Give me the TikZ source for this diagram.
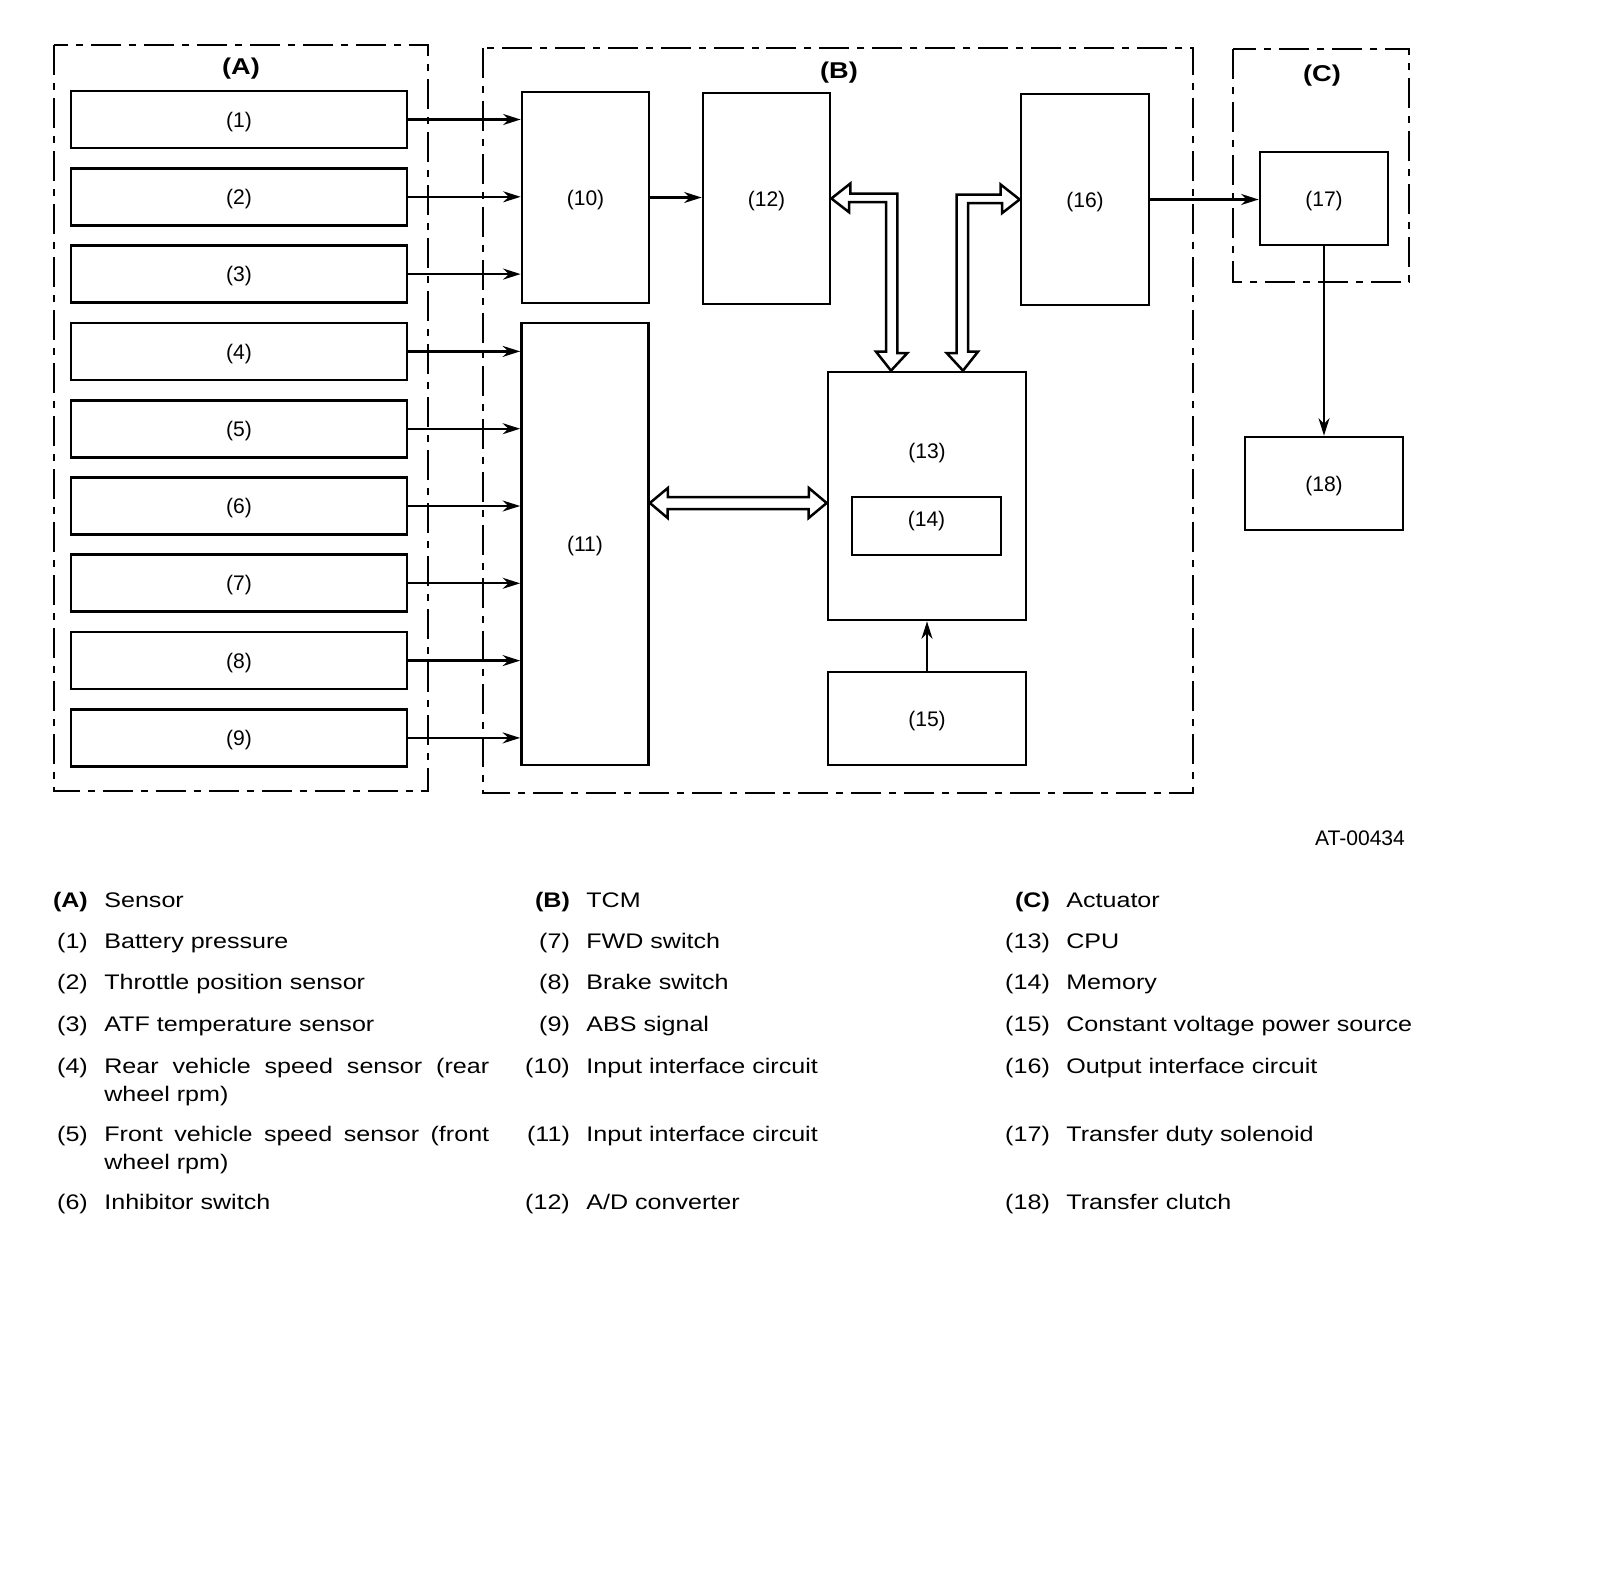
\documentclass[tikz,border=0pt]{standalone}
\usepackage{fontspec}
\setmainfont{Liberation Sans}
\newfontfamily\legendfont[FakeStretch=1.19]{Liberation Sans}
\usepackage{tikz}
\usetikzlibrary{
    arrows.meta,
    calc
}
\newcommand{\legnum}[1]{\llap{#1\hspace{0.33cm}}}

\begin{document}
\begin{tikzpicture}[
    x=0.02cm, y=-0.02cm,
    lbl/.style={font=\fontsize{12}{14}\selectfont},
    box/.style={
        rectangle,
        draw=black,
        line width=0.055cm,
        inner sep=0pt,
        text depth=0pt,
        lbl
    },
    sensor/.style={box, minimum width=6.72cm, minimum height=1.14cm},
    unit/.style={box, minimum width=2.54cm, minimum height=4.22cm},
    frame/.style={draw=black, line width=0.045cm,
        dash pattern=on 0.6cm off 0.16cm on 0.14cm off 0.16cm},
    framelabel/.style={font=\legendfont\fontsize{13}{15}\selectfont\bfseries},
    arrow/.style={-{Stealth[length=0.35cm,width=0.22cm]}, line width=0.045cm},
    busarrow/.style={draw=black, fill=white, line width=0.05cm, line join=miter},
    legend/.style={anchor=base west, inner sep=0pt, font=\legendfont\fontsize{12}{14}\selectfont}
]
\useasboundingbox (0,0) rectangle (1600,1582);

% Frames
\draw[frame] (54,45) rectangle (428,791);
\draw[frame] (483,48) rectangle (1193,793);
\draw[frame] (1233,49) rectangle (1409,282);
\node[framelabel] (la) at (241,69) {(A)};
\node[framelabel] (lb) at (839,73) {(B)};
\node[framelabel] (lc) at (1322,76) {(C)};

% Sensors
\node[sensor] (s1) at (239,119.5) {(1)};
\node[sensor] (s2) at (239,196.8) {(2)};
\node[sensor] (s3) at (239,274.1) {(3)};
\node[sensor] (s4) at (239,351.4) {(4)};
\node[sensor] (s5) at (239,428.7) {(5)};
\node[sensor] (s6) at (239,506.0) {(6)};
\node[sensor] (s7) at (239,583.3) {(7)};
\node[sensor] (s8) at (239,660.6) {(8)};
\node[sensor] (s9) at (239,737.9) {(9)};

% TCM blocks
\node[unit] (in1) at (585.5,197.5) {(10)};
\node[box, minimum width=2.54cm, minimum height=8.84cm] (in2) at (585,544) {(11)};
\node[unit] (adc) at (766.5,198.5) {(12)};
\node[box, minimum width=2.56cm, minimum height=4.22cm] (dac) at (1085,199.5) {(16)};
\node[box, minimum width=3.96cm, minimum height=4.96cm] (cpu) at (927,496) {};
\node[lbl] (cpulabel) at (927,453) {(13)};
\node[box, minimum width=2.98cm, minimum height=1.16cm] (mem) at (926.5,526) {};
\node[lbl] (memlabel) at (926.5,521) {(14)};
\node[box, minimum width=3.96cm, minimum height=1.86cm] (pwr) at (927,718.5) {(15)};

% Actuators
\node[box, minimum width=2.56cm, minimum height=1.86cm] (sol) at (1324,198.5) {(17)};
\node[box, minimum width=3.16cm, minimum height=1.86cm] (clutch) at (1324,483.5) {(18)};

% Signal arrows
\draw[arrow] (s1.east) -- (s1.east -| in1.west);
\draw[arrow] (s2.east) -- (s2.east -| in1.west);
\draw[arrow] (s3.east) -- (s3.east -| in1.west);
\draw[arrow] (s4.east) -- (s4.east -| in2.west);
\draw[arrow] (s5.east) -- (s5.east -| in2.west);
\draw[arrow] (s6.east) -- (s6.east -| in2.west);
\draw[arrow] (s7.east) -- (s7.east -| in2.west);
\draw[arrow] (s8.east) -- (s8.east -| in2.west);
\draw[arrow] (s9.east) -- (s9.east -| in2.west);
\draw[arrow] (in1.east) -- (in1.east -| adc.west);
\draw[arrow] (dac.east) -- (dac.east -| sol.west);
\draw[arrow] (sol.south) -- (clutch.north);
\draw[arrow] (pwr.north) -- (cpu.south);

% Bus arrows
\coordinate (busa) at ($(cpu.north)+(-36,0)$);
\coordinate (busb) at ($(cpu.north)+(36,0)$);
\coordinate (busc) at ($(cpu.west)+(0,7)$);
\draw[busarrow] (adc.east) -- ++(19,-15) -- ++(0,10) -- ++(47,0) -- ++(0,159.5) -- ++(10,0)
    -- (busa) -- ++(-15,-19) -- ++(10,0) -- ++(0,-149.5) -- ++(-37,0) -- ++(0,10) -- cycle;
\draw[busarrow] (dac.west) -- ++(-19,-15) -- ++(0,10) -- ++(-44,0) -- ++(0,158.5) -- ++(-10,0)
    -- (busb) -- ++(15,-19) -- ++(-10,0) -- ++(0,-148.5) -- ++(34,0) -- ++(0,10) -- cycle;
\draw[busarrow] (in2.east |- busc) -- ++(18,-15) -- ++(0,9) -- ++(141,0) -- ++(0,-9)
    -- (busc) -- ++(-18,15) -- ++(0,-9) -- ++(-141,0) -- ++(0,9) -- cycle;

% Figure code
\node[lbl] (code) at (1360,838) {AT-00434};

% Legend
\node[legend] (ka) at (104,907) {\legnum{\bfseries(A)}Sensor};
\node[legend] (k1) at (104,948) {\legnum{(1)}Battery pressure};
\node[legend] (k2) at (104,989) {\legnum{(2)}Throttle position sensor};
\node[legend] (k3) at (104,1031) {\legnum{(3)}ATF temperature sensor};
\node[legend] (k4) at (104,1073) {\legnum{(4)}\makebox[7.7cm][s]{Rear vehicle speed sensor (rear}};
\node[legend] (k4b) at (104,1101) {wheel rpm)};
\node[legend] (k5) at (104,1141) {\legnum{(5)}\makebox[7.7cm][s]{Front vehicle speed sensor (front}};
\node[legend] (k5b) at (104,1169) {wheel rpm)};
\node[legend] (k6) at (104,1209) {\legnum{(6)}Inhibitor switch};

\node[legend] (kb) at (586,907) {\legnum{\bfseries(B)}TCM};
\node[legend] (k7) at (586,948) {\legnum{(7)}FWD switch};
\node[legend] (k8) at (586,989) {\legnum{(8)}Brake switch};
\node[legend] (k9) at (586,1031) {\legnum{(9)}ABS signal};
\node[legend] (k10) at (586,1073) {\legnum{(10)}Input interface circuit};
\node[legend] (k11) at (586,1141) {\legnum{(11)}Input interface circuit};
\node[legend] (k12) at (586,1209) {\legnum{(12)}A/D converter};

\node[legend] (kc) at (1066,907) {\legnum{\bfseries(C)}Actuator};
\node[legend] (k13) at (1066,948) {\legnum{(13)}CPU};
\node[legend] (k14) at (1066,989) {\legnum{(14)}Memory};
\node[legend] (k15) at (1066,1031) {\legnum{(15)}Constant voltage power source};
\node[legend] (k16) at (1066,1073) {\legnum{(16)}Output interface circuit};
\node[legend] (k17) at (1066,1141) {\legnum{(17)}Transfer duty solenoid};
\node[legend] (k18) at (1066,1209) {\legnum{(18)}Transfer clutch};

\end{tikzpicture}
\end{document}
